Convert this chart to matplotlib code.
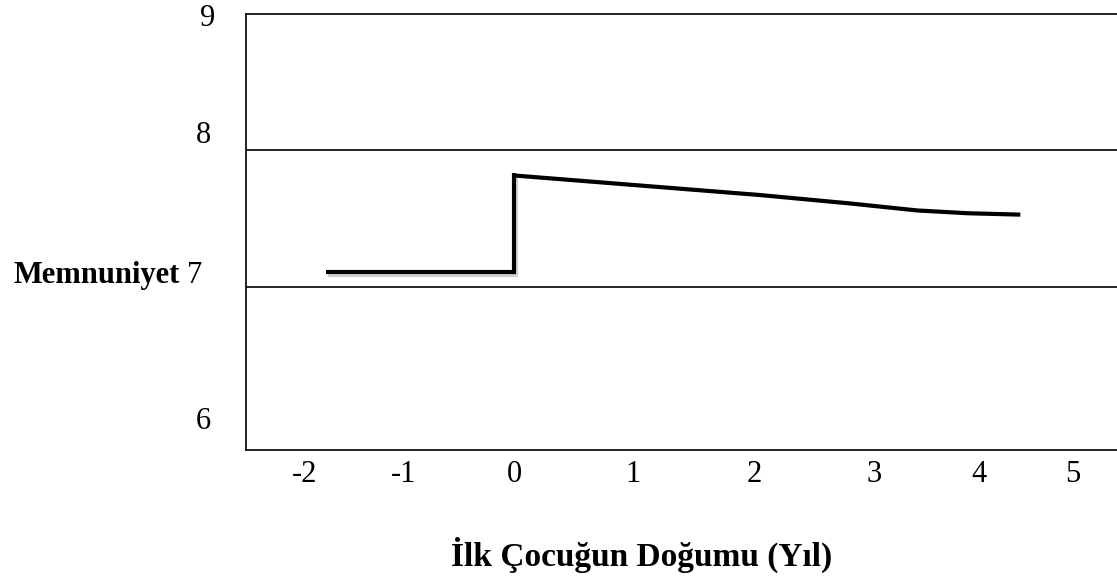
#!/usr/bin/env python3
"""Life satisfaction around the birth of the first child (schematic)."""

import numpy as np
import matplotlib
matplotlib.use("Agg")
import matplotlib.pyplot as plt
import matplotlib.patheffects as pe
import matplotlib.transforms as mtransforms

# ── data ────────────────────────────────────────────────
YEARS = [-2, -1, 0, 1, 2, 3, 4, 5]
LEVELS = [6, 7, 8, 9]

# before the birth: flat, then the jump at year 0
BEFORE_X = [-1.79, 0.0, 0.0]
BEFORE_Y = [7.0, 7.0, 7.71]

# after the birth: slow decline
AFTER_X = [0.0, 2.05, 2.8, 3.41, 3.89, 4.44]
AFTER_Y = [7.69, 7.55, 7.49, 7.44, 7.42, 7.41]

# ── layout (the hand-drawn original has uneven tick spacing) ──
X_TICK_PX = [305, 404, 514, 633, 754, 874, 979, 1073]   # from left
Y_TICK_PX = [162, 308, 448, 565]                         # from bottom
Y_LABEL_SHIFT = {7: -9, 9: 4}                            # px, sideways
RULES_Y = [6.90, 7.87]
XLIM = (-2.596, 5.468)
YLIM = (5.78, 9.01)

FONT = "Liberation Serif"
TICK_SIZE = 22


def uneven_scale(vals, pos):
    """Piecewise-linear scale through (value, position) anchors."""
    vals = np.asarray(vals, float)
    pos = np.asarray(pos, float)
    s0 = (pos[1] - pos[0]) / (vals[1] - vals[0])
    s1 = (pos[-1] - pos[-2]) / (vals[-1] - vals[-2])
    v = np.r_[vals[0] - 100, vals, vals[-1] + 100]
    p = np.r_[pos[0] - 100 * s0, pos, pos[-1] + 100 * s1]
    return (lambda x: np.interp(x, v, p)), (lambda y: np.interp(y, p, v))


fig = plt.figure(figsize=(11.17, 5.8), dpi=100)
ax = fig.add_axes([246 / 1117, 130 / 580, 871 / 1117, 436 / 580])

ax.set_xscale("function", functions=uneven_scale(YEARS, X_TICK_PX))
ax.set_yscale("function", functions=uneven_scale(LEVELS, Y_TICK_PX))
ax.set_xlim(*XLIM)
ax.set_ylim(*YLIM)

for y in RULES_Y:
    ax.axhline(y, color="black", linewidth=1.2)

ax.plot(BEFORE_X, BEFORE_Y, color="black", linewidth=3.0,
        solid_capstyle="butt", solid_joinstyle="miter",
        path_effects=[pe.SimpleLineShadow(offset=(1.5, -2.5), shadow_color="black",
                                          alpha=0.18), pe.Normal()])
ax.plot(AFTER_X, AFTER_Y, color="black", linewidth=3.0,
        solid_capstyle="butt", solid_joinstyle="miter")

ax.set_xticks(YEARS)
ax.set_xticklabels([str(v) for v in YEARS])
ax.set_yticks(LEVELS)
ax.set_yticklabels([str(v) for v in LEVELS])
ax.xaxis.set_minor_locator(matplotlib.ticker.NullLocator())
ax.yaxis.set_minor_locator(matplotlib.ticker.NullLocator())
ax.tick_params(axis="x", length=0, pad=7, labelsize=TICK_SIZE)
ax.tick_params(axis="y", length=0, pad=25, labelsize=TICK_SIZE)
for lab in ax.get_xticklabels() + ax.get_yticklabels():
    lab.set_fontfamily(FONT)
for lev, lab in zip(LEVELS, ax.get_yticklabels()):
    if lev in Y_LABEL_SHIFT:
        shift = mtransforms.ScaledTranslation(Y_LABEL_SHIFT[lev] / 100, 0,
                                              fig.dpi_scale_trans)
        lab.set_transform(lab.get_transform() + shift)

for side in ["left", "top", "bottom"]:
    ax.spines[side].set_linewidth(1.2)
ax.spines["right"].set_visible(False)

trans = mtransforms.blended_transform_factory(ax.transAxes, ax.transData)
ax.text(-0.0758, 7, "Memnuniyet", transform=trans, ha="right",
        va="center_baseline", fontsize=22, fontweight="bold", family=FONT)

fig.text(642 / 1117, 1 - 555 / 580, "İlk Çocuğun Doğumu (Yıl)", ha="center",
         va="center", fontsize=24, fontweight="bold", family=FONT)

fig.savefig("out.png", dpi=100)
print("Saved out.png")
